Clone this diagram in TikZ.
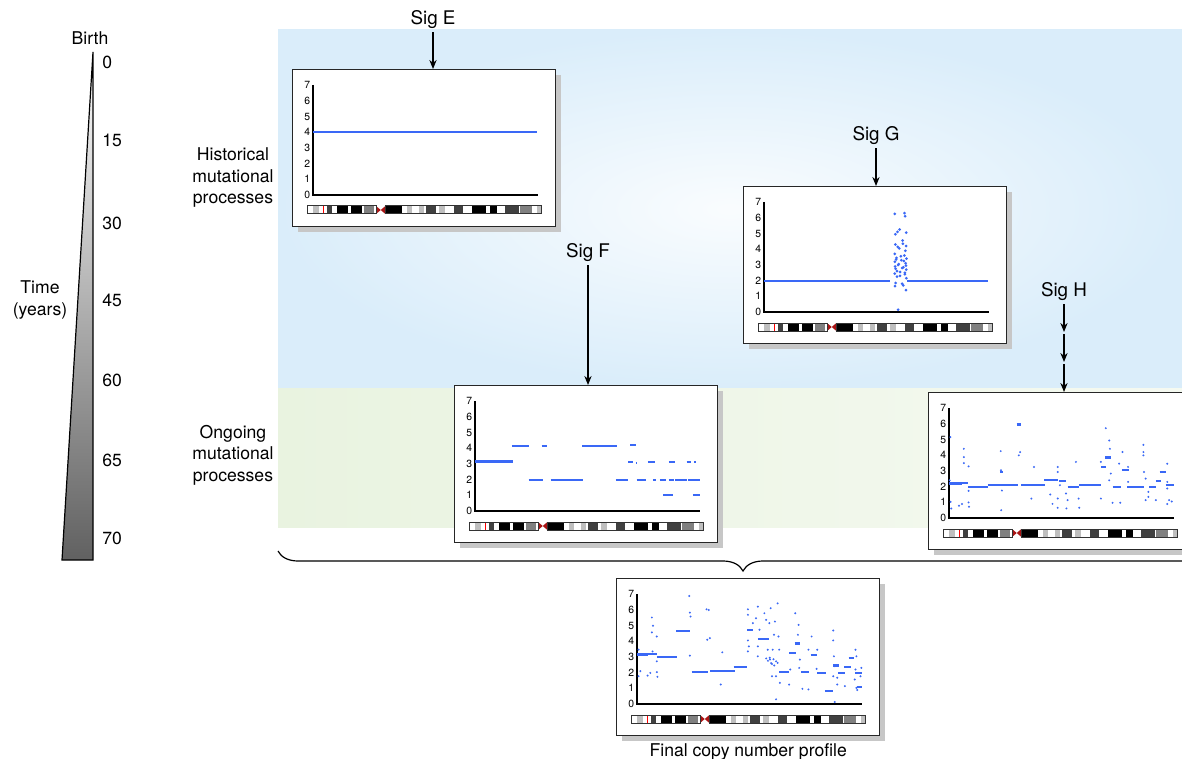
\documentclass[tikz,border=0pt]{standalone}
\usepackage{fontspec}
\setmainfont{TeX Gyre Heros}
\usetikzlibrary{calc,positioning,arrows.meta,decorations.pathreplacing,shadows}

\definecolor{cnblue}{RGB}{58,104,246}
\definecolor{histblue}{RGB}{218,237,250}
\definecolor{ongoinggreen}{RGB}{233,243,224}
\definecolor{cenred}{RGB}{170,20,20}

\tikzset{
  panel/.style={draw=black!85, line width=0.7pt, fill=white, anchor=north west,
    minimum width=131.5pt, minimum height=78.5pt, inner sep=0pt,
    drop shadow={shadow xshift=2.5pt, shadow yshift=-2.5pt, fill=black!22, opacity=1}},
  plotarea/.style={shift={(21,126)}, x=112.5pt, y=7.85pt},
  cnseg/.style={cnblue, line width=1.1pt},
  cndot/.style={fill=cnblue},
  cntick/.style={anchor=east, inner sep=0pt, font=\fontsize{5.2}{6}\selectfont},
  siglabel/.style={inner sep=1.5pt, font=\fontsize{9.4}{11}\selectfont},
  sigarrow/.style={-{Stealth[length=4.5pt,width=3.6pt]}, line width=0.6pt},
}

% axes, ticks and chromosome ideogram of one copy number panel
\newcommand\cnframe{%
  \draw[line width=0.6pt] (21,16) -- (21,126) -- (246,126);
  \foreach \k in {0,...,7} \node[cntick] at (18.5,{126-15.7*\k}) {\k};
  \begin{scope}[shift={(15,137)}, x=117pt]
    \fill[white] (0,0) rectangle (0.295,8) (0.335,0) rectangle (1,8);
    \foreach \a/\b/\c in {0.025/0.05/black!25, 0.085/0.107/black!75, 0.13/0.177/black,
      0.188/0.233/black, 0.243/0.287/black!50, 0.335/0.406/black, 0.429/0.45/black!25,
      0.478/0.498/black!25, 0.509/0.552/black!75, 0.563/0.591/black!25, 0.628/0.666/black!75,
      0.704/0.764/black, 0.781/0.813/black, 0.848/0.905/black!75, 0.912/0.962/black!50,
      0.983/1/black!25}
      \fill[\c] (\a,0) rectangle (\b,8);
    \draw[red, line width=0.4pt] (0.072,0) -- (0.072,8);
    \fill[cenred] (0.295,0) -- (0.315,4) -- (0.295,8) -- cycle
                  (0.335,0) -- (0.315,4) -- (0.335,8) -- cycle;
    \draw[black!80, line width=0.5pt] (0,0) rectangle (0.295,8) (0.335,0) rectangle (1,8);
  \end{scope}}
\newcommand\cnsegs[1]{\foreach \a/\b/\c in {#1} \draw[cnseg] (\a,\c) -- (\b,\c);}
\newcommand\cndots[2]{\foreach \a/\b in {#2} \fill[cndot] (\a,\b) circle (#1);}

\begin{document}
\begin{tikzpicture}[x=0.5pt, y=-0.5pt, font=\fontsize{8.8}{10.75}\selectfont]
\useasboundingbox (0,0) rectangle (1182,759);
\clip (0,0) rectangle (1182,759);

% layers
\shade[inner color=histblue!15, outer color=histblue] (278,30) rectangle (1182,388);
\shade[left color=ongoinggreen, right color=ongoinggreen!45] (278,388) rectangle (1182,527);
\node[align=center] (hist) at (233,178) {Historical\\mutational\\processes};
\node[align=center] (ongo) at (233,455) {Ongoing\\mutational\\processes};

% time axis
\shade[top color=white, bottom color=black!62] (93,52) -- (93,560) -- (62,560) -- cycle;
\draw[line width=0.6pt] (93,52) -- (93,560) -- (62,560) -- cycle;
\node (birth) at (90,38) {Birth};
\foreach \t/\y in {0/62,15/140,30/223,45/300,60/380,65/460,70/538}
  \node[anchor=west, inner sep=1pt] (yr\t) at (100,\y) {\t};
\node[align=center] (time) at (40,300) {Time\\(years)};

% panels
\node[panel] (pE) at (292,69) {};
\node[panel] (pG) at (743,186) {};
\node[panel] (pF) at (454,385) {};
\node[panel] (pH) at (928,392) {};
\node[panel] (pFin) at (616,578) {};

\node[siglabel] (sigE) at (433,20) {Sig E};
\node[siglabel] (sigG) at (876,136) {Sig G};
\node[siglabel] (sigF) at (588,253) {Sig F};
\node[siglabel] (sigH) at (1064,292) {Sig H};
\coordinate (h1) at (1064,334);
\coordinate (h2) at (1064,364);
\draw[sigarrow] (sigE) -- (sigE |- pE.north);
\draw[sigarrow] (sigG) -- (sigG |- pG.north);
\draw[sigarrow] (sigF) -- (sigF |- pF.north);
\draw[sigarrow, shorten >=1pt] (sigH) -- (h1);
\draw[sigarrow, shorten >=1pt] (h1) -- (h2);
\draw[sigarrow] (h2) -- (sigH |- pH.north);

% Sig E
\begin{scope}[shift={(pE.north west)}]
  \cnframe
  \begin{scope}[plotarea] \draw[cnseg] (0,4) -- (0.995,4); \end{scope}
\end{scope}

% Sig G
\begin{scope}[shift={(pG.north west)}]
  \cnframe
  \begin{scope}[plotarea]
    \cnsegs{0/0.56/2, 0.636/0.995/2}
    \foreach \v [count=\i] in {6.3,6.25,6.1,5.25,5.1,5.05,4.95,4.55,4.35,4.3,4.2,4.15,4.05,
      3.9,3.7,3.6,3.55,3.45,3.4,3.35,3.3,3.25,3.2,3.1,3.05,3.0,2.95,2.9,2.85,2.8,2.75,2.7,
      2.6,2.55,2.5,2.45,2.4,2.3,2.25,2.15,1.85,1.8,1.7,1.65,1.4,0.15}
      \fill[cndot] ({0.607+0.026*sin(\i*137.5)},\v) circle (0.75pt);
  \end{scope}
\end{scope}

% Sig F
\begin{scope}[shift={(pF.north west)}]
  \cnframe
  \begin{scope}[plotarea]
    \cnsegs{0/0.169/3.15, 0.164/0.238/4.15, 0.296/0.318/4.15, 0.477/0.629/4.15,
      0.689/0.714/4.2, 0.238/0.304/1.95, 0.336/0.48/1.95, 0.626/0.68/1.95, 0.718/0.758/1.95,
      0.79/0.805/1.95, 0.822/0.848/1.95, 0.862/0.885/1.95, 0.888/0.94/1.95, 0.947/1/1.95,
      0.68/0.702/3.1, 0.715/0.722/3.05, 0.768/0.8/3.1, 0.862/0.89/3.1, 0.94/0.962/3.1,
      0.975/0.98/3.1, 0.836/0.878/1.0, 0.968/1/1.0}
  \end{scope}
\end{scope}

% Sig H
\begin{scope}[shift={(pH.north west)}]
  \cnframe
  \begin{scope}[plotarea]
    \cnsegs{0/0.059/2.2, 0.059/0.084/2.25, 0.084/0.173/2.0, 0.173/0.306/2.1,
      0.321/0.428/2.1, 0.424/0.483/2.4, 0.49/0.52/2.35, 0.527/0.579/2.0, 0.579/0.675/2.1,
      0.727/0.764/2.0, 0.793/0.867/1.95, 0.889/0.919/2.0, 0.919/0.941/2.35, 0.963/1/2.1,
      0.675/0.697/3.25, 0.694/0.72/3.85, 0.768/0.798/3.05, 0.936/0.966/2.95,
      0.301/0.322/5.95, 0.228/0.242/2.95}
    \cndots{0.55pt}{0.006/5.15, 0.003/2.4, 0.007/1.03, 0.01/0.61, 0.044/0.78, 0.058/0.89,
      0.066/4.41, 0.066/3.88, 0.066/3.5, 0.087/3.29, 0.087/1.73, 0.087/0.99, 0.089/0.72,
      0.23/4.26, 0.231/3.04, 0.235/1.75, 0.232/0.5, 0.31/3.99, 0.316/4.2, 0.378/3.25,
      0.366/1.24, 0.483/3.25, 0.483/2.93, 0.483/1.24, 0.483/0.65, 0.493/2.09, 0.52/1.56,
      0.527/1.14, 0.522/0.61, 0.542/1.98, 0.564/3.57, 0.576/1.24, 0.579/0.65, 0.675/3.57,
      0.675/1.24, 0.697/5.72, 0.712/4.94, 0.715/4.41, 0.719/2.83, 0.712/2.4, 0.727/0.97,
      0.756/3.46, 0.761/0.97, 0.771/4.2, 0.796/3.25, 0.796/2.3, 0.864/4.66, 0.864/4.2,
      0.864/3.99, 0.867/2.93, 0.874/2.51, 0.886/1.67, 0.874/1.14, 0.886/1.35, 0.919/1.14,
      0.97/3.46, 0.97/2.3, 0.97/1.88, 0.978/1.14, 0.97/0.89, 0.99/1.05, 0.45/1.5, 0.46/0.9}
  \end{scope}
\end{scope}

% final profile
\begin{scope}[shift={(pFin.north west)}]
  \cnframe
  \begin{scope}[plotarea]
    \cnsegs{0/0.051/3.15, 0.051/0.088/3.2, 0.088/0.176/3.0, 0.174/0.235/4.65,
      0.243/0.316/2.05, 0.324/0.434/2.1, 0.429/0.488/2.35, 0.49/0.515/4.7,
      0.537/0.588/4.15, 0.632/0.676/2.05, 0.676/0.706/3.25, 0.701/0.724/3.85,
      0.731/0.765/2.05, 0.772/0.801/3.1, 0.801/0.838/2.0, 0.835/0.871/0.85,
      0.872/0.897/2.45, 0.894/0.926/2.0, 0.921/0.949/2.35, 0.941/0.966/2.95,
      0.971/1/2.0, 0.978/1/1.1}
    \cndots{0.55pt}{0.007/3.46, 0.007/1.77, 0.015/2.09, 0.047/1.81, 0.059/1.98, 0.066/5.51,
      0.071/4.98, 0.066/4.56, 0.069/3.35, 0.088/4.3, 0.088/2.72, 0.088/2.03, 0.091/1.73,
      0.232/6.88, 0.235/5.82, 0.238/5.57, 0.235/3.08, 0.309/6.03, 0.319/5.99, 0.312/4.09,
      0.324/4.2, 0.372/1.24, 0.379/3.29, 0.493/6.03, 0.493/5.68, 0.493/4.05, 0.493/3.35,
      0.497/3.67, 0.515/5.15, 0.537/6.2, 0.529/5.46, 0.537/3.67, 0.537/3.04, 0.544/4.73,
      0.566/5.78, 0.574/5.36, 0.581/3.46, 0.588/5.15, 0.594/6.1, 0.591/2.83, 0.6/1.77,
      0.603/3.46, 0.609/4.41, 0.613/5.25, 0.618/2.72, 0.618/1.77, 0.625/6.41, 0.629/4.3,
      0.632/3.46, 0.625/2.62, 0.635/1.35, 0.618/0.3, 0.574/2.9, 0.582/2.75, 0.59/2.95,
      0.6/2.55, 0.607/2.85, 0.596/2.6, 0.61/2.45, 0.676/1.24, 0.681/2.2, 0.703/5.78,
      0.718/5.04, 0.715/4.41, 0.724/2.83, 0.721/2.3, 0.735/0.97, 0.762/3.46, 0.762/0.93,
      0.776/4.3, 0.801/3.46, 0.798/2.24, 0.872/4.68, 0.872/4.05, 0.875/3.04, 0.872/1.77,
      0.879/2.41, 0.879/0.13, 0.89/1.67, 0.89/1.24, 0.924/1.14, 0.971/3.46, 0.975/3.04,
      0.971/2.2, 0.968/1.56, 0.975/1.03, 0.993/1.77, 0.997/2.3, 0.979/0.89}
  \end{scope}
\end{scope}
\node[below=2.5pt of pFin, inner sep=1pt] (final) {Final copy number profile};

% everything adds up to the final profile
\coordinate (braceL) at (278,551);
\coordinate (braceR) at (1208,551);
\draw[line width=0.6pt, decorate, decoration={brace, mirror, amplitude=10pt}] (braceL) -- (braceR);
\end{tikzpicture}
\end{document}
